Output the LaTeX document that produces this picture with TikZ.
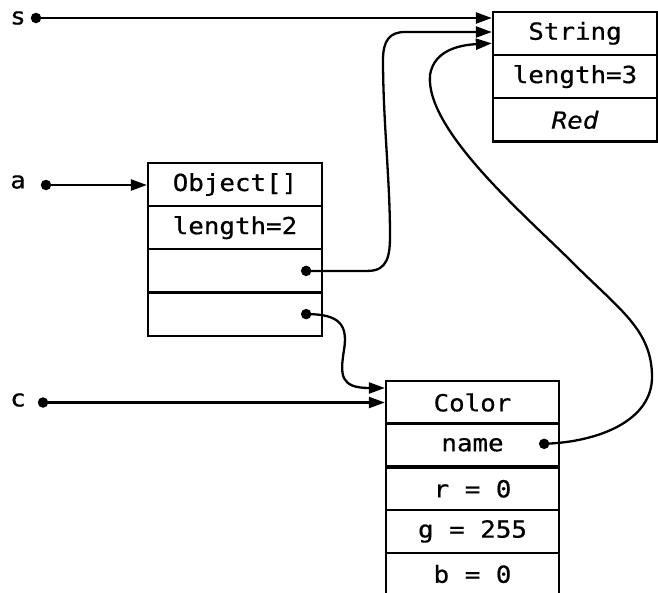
\documentclass[tikz,border=0pt]{standalone}
\usepackage{fontspec}
\newfontfamily\mono[FakeStretch=1.1,FakeBold=0.6]{DejaVu Sans Mono}
\usetikzlibrary{arrows.meta,calc}
\begin{document}
\begin{tikzpicture}[x=1pt,y=-1pt,line width=2.3pt,
  txt/.style={font=\mono\fontsize{23.5}{27}\selectfont},
  cell/.style={draw,rectangle,inner sep=0pt,txt},
  lbl/.style={inner sep=0pt,txt},
  dot/.style={circle,fill,inner sep=0pt,minimum size=10.5pt},
  ptr/.style={-{Triangle[length=16pt,width=11pt]},line width=2.3pt},
  strrow/.style={cell,minimum width=164pt,minimum height=43.3pt},
  objrow/.style={cell,minimum width=174pt,minimum height=43.2pt},
  colrow/.style={cell,minimum width=173pt,minimum height=42.6pt}]
\useasboundingbox (0,0) rectangle (658,592);

% String object
\node[strrow] (str1) at (575,33.3) {String};
\node[strrow] (str2) at (575,76.6) {length=3};
\node[strrow] (str3) at (575,119.9) {\itshape Red};

% Object[] array
\node[objrow] (obj1) at (235,184.5) {Object[]};
\node[objrow] (obj2) at (235,227.7) {length=2};
\node[objrow] (obj3) at (235,270.9) {};
\node[objrow] (obj4) at (235,314.1) {};

% Color object
\node[colrow] (col1) at (472.5,402.5) {Color};
\node[colrow] (col2) at (472.5,444.8) {name};
\node[colrow] (col3) at (472.5,488.8) {r = 0};
\node[colrow] (col4) at (472.5,531.4) {g = 255};
\node[colrow] (col5) at (472.5,574.0) {b = 0};

% variables
\node[lbl] (s) at (18,18) {s};
\node[lbl] (a) at (18,182) {a};
\node[lbl] (c) at (18,400) {c};
\node[dot] (sd) at (36,18) {};
\node[dot] (ad) at (46,185) {};
\node[dot] (cd) at (43,402.5) {};

% reference dots inside cells
\node[dot] (o3d) at ($(obj3.east)+(-17,0)$) {};
\node[dot] (o4d) at ($(obj4.east)+(-17,0)$) {};
\node[dot] (nd) at ($(col2.east)+(-16,-1)$) {};

% targets
\coordinate (t1) at ($(str1.west)+(0,-1.3)$);
\coordinate (t3) at ($(str1.west)+(0,10)$);
\coordinate (t2) at ($(col1.west)+(0,-14.5)$);

% connectors
\draw[ptr] (sd.center) -- (sd -| str1.west);
\draw[ptr] (ad.center) -- (ad -| obj1.west);
\draw[ptr] (cd.center) -- (cd -| col1.west);

\draw[ptr] (o3d.center) -- (368,270.9)
  .. controls (388,270.9) and (390,255) .. (390,235)
  .. controls (390,180) and (383,120) .. (383,60)
  .. controls (383,40) and (390,32) .. (405,32) -- (t1);

\draw[ptr] (o4d.center) .. controls (340,314) and (348,325) .. (344,350)
  .. controls (340,375) and (340,388) .. (t2);

\draw[ptr] (nd.center) .. controls (600,442) and (652,420) .. (652,377)
  .. controls (652,330) and (620,310) .. (573,263)
  .. controls (526,216) and (425,130) .. (430,75)
  .. controls (434,50) and (460,45) .. (t3);
\end{tikzpicture}
\end{document}
